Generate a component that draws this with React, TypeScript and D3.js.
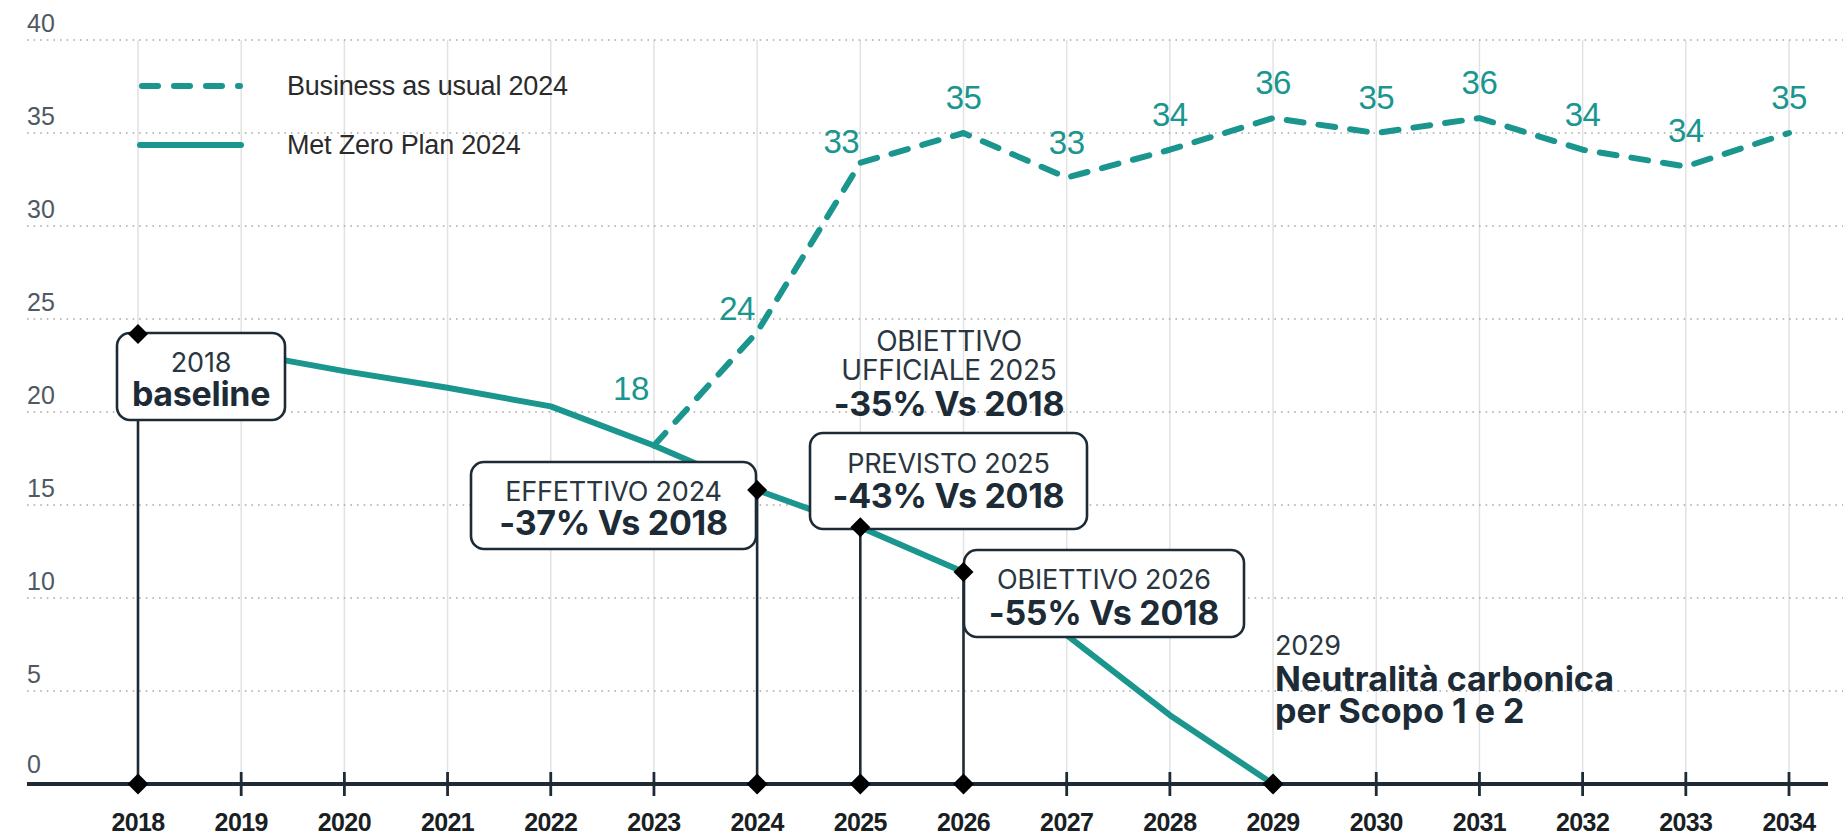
import React from "react";
import * as d3 from "d3";

// ---------- DATA ----------
const years = [2018, 2019, 2020, 2021, 2022, 2023, 2024, 2025, 2026, 2027, 2028, 2029, 2030, 2031, 2032, 2033, 2034];
const yTicks = [0, 5, 10, 15, 20, 25, 30, 35, 40];

const netZeroYears = [2018, 2019, 2020, 2021, 2022, 2023, 2024, 2025, 2026, 2027, 2028, 2029];
const netZeroValues = [24.2, 23.2, 22.2, 21.3, 20.3, 18.2, 15.8, 13.8, 11.4, 8.0, 3.7, 0];

const bauYears = [2023, 2024, 2025, 2026, 2027, 2028, 2029, 2030, 2031, 2032, 2033, 2034];
const bauValues = [18.2, 24.3, 33.4, 35.0, 32.6, 34.1, 35.8, 35.0, 35.8, 34.1, 33.2, 35.0];
const bauLabels = ["18", "24", "33", "35", "33", "34", "36", "35", "36", "34", "34", "35"];

const dropLineYears = [2018, 2024, 2025, 2026];
const axisDiamondYears = [2018, 2024, 2025, 2026, 2029];

const legendLabels = ["Business as usual 2024", "Met Zero Plan 2024"];

const baselineText = ["2018", "baseline"];
const effettivoText = ["EFFETTIVO 2024", "-37% Vs 2018"];
const previstoText = ["PREVISTO 2025", "-43% Vs 2018"];
const ufficialeText = ["OBIETTIVO", "UFFICIALE 2025", "-35% Vs 2018"];
const obiettivo2026Text = ["OBIETTIVO 2026", "-55% Vs 2018"];
const neutralText = ["2029", "Neutralità carbonica", "per Scopo 1 e 2"];

// ---------- STYLE ----------
const W = 1843;
const H = 835;
const TEAL = "#1a968f";
const DARK = "#1c2b36";
const GRAY = "#4f5963";
const SANS = "'Liberation Sans', Arial, Helvetica, sans-serif";
const GEO = "Inter, 'Noto Sans', sans-serif";

export default function App() {
  const x = d3.scaleLinear().domain([2018, 2034]).range([138, 1789]);
  const y = d3.scaleLinear().domain([0, 40]).range([784, 40]);

  const nzPts: [number, number][] = netZeroYears.map((yr, i) => [yr, netZeroValues[i]]);
  const bauPts: [number, number][] = bauYears.map((yr, i) => [yr, bauValues[i]]);
  const line = d3
    .line<[number, number]>()
    .x((d) => x(d[0]))
    .y((d) => y(d[1]));

  const nzValue = (yr: number) => netZeroValues[netZeroYears.indexOf(yr)];

  const diamond = (cx: number, cy: number, r: number, key: string) => (
    <path key={key} d={`M${cx},${cy - r}L${cx + r},${cy}L${cx},${cy + r}L${cx - r},${cy}Z`} fill="#000" />
  );

  // label nudges for the steep rising part
  const labelOffset = (i: number): [number, number] => {
    if (i === 0) return [-23, -45];
    if (i === 1) return [-20, -12];
    if (i === 2) return [-19, -10];
    return [0, -24];
  };

  const box = (
    bx: number,
    by: number,
    bw: number,
    bh: number,
    lines: string[],
    baselines: number[],
    sizes: number[],
    key: string
  ) => (
    <g key={key}>
      <rect x={bx} y={by} width={bw} height={bh} rx={13} ry={13} fill="#fff" stroke={DARK} strokeWidth={2.6} />
      {lines.map((t, i) => (
        <text
          key={i}
          x={bx + bw / 2}
          y={baselines[i]}
          textAnchor="middle"
          fontFamily={GEO}
          fontSize={sizes[i]}
          fontWeight={i === lines.length - 1 ? 700 : 400}
          fill={i === lines.length - 1 ? DARK : "#2a3640"}
          letterSpacing={i === lines.length - 1 ? -0.3 : -0.2}
        >
          {t}
        </text>
      ))}
    </g>
  );

  return (
    <div style={{ position: "fixed", left: 0, top: 0, width: W, height: H, background: "#fff" }}>
      <svg width={W} height={H} viewBox={`0 0 ${W} ${H}`} style={{ display: "block" }}>
        <rect x={0} y={0} width={W} height={H} fill="#fff" />

        {/* vertical grid */}
        {years.map((yr) => (
          <line key={"vg" + yr} x1={x(yr)} x2={x(yr)} y1={y(40)} y2={y(0)} stroke="#e2e2e2" strokeWidth={1.5} />
        ))}

        {/* horizontal dotted grid */}
        {yTicks
          .filter((t) => t > 0)
          .map((t) => (
            <line
              key={"hg" + t}
              x1={27}
              x2={W}
              y1={y(t)}
              y2={y(t)}
              stroke="#a9a9a9"
              strokeWidth={1.6}
              strokeDasharray="1.6 5"
            />
          ))}

        {/* y labels */}
        {yTicks.map((t) => (
          <text key={"yl" + t} x={27} y={y(t) - (t === 0 ? 11 : 8)} fontFamily={SANS} fontSize={25} fill={GRAY}>
            {t}
          </text>
        ))}

        {/* legend */}
        <line x1={142} x2={240} y1={86} y2={86} stroke={TEAL} strokeWidth={6} strokeDasharray="16 16" strokeLinecap="round" />
        <text x={287} y={95} fontFamily={SANS} fontSize={27} fill="#2b2b2b" letterSpacing={-0.2}>
          {legendLabels[0]}
        </text>
        <line x1={140} x2={241} y1={145} y2={145} stroke={TEAL} strokeWidth={6} strokeLinecap="round" />
        <text x={287} y={154} fontFamily={SANS} fontSize={27} fill="#2b2b2b" letterSpacing={-0.2}>
          {legendLabels[1]}
        </text>

        {/* lines */}
        <path d={line(nzPts) || ""} fill="none" stroke={TEAL} strokeWidth={6} strokeLinejoin="round" />
        <path
          d={line(bauPts) || ""}
          fill="none"
          stroke={TEAL}
          strokeWidth={6}
          strokeDasharray="17 15"
          strokeLinecap="round"
          strokeLinejoin="round"
        />

        {/* BAU labels */}
        {bauYears.map((yr, i) => {
          const [dx, dy] = labelOffset(i);
          return (
            <text
              key={"bl" + yr}
              x={x(yr) + dx}
              y={y(bauValues[i]) + dy}
              textAnchor="middle"
              fontFamily={SANS}
              fontSize={33}
              fill={TEAL}
              letterSpacing={-0.5}
            >
              {bauLabels[i]}
            </text>
          );
        })}

        {/* drop lines */}
        {dropLineYears.map((yr) => (
          <line key={"dl" + yr} x1={x(yr)} x2={x(yr)} y1={y(nzValue(yr))} y2={y(0)} stroke={DARK} strokeWidth={2.6} />
        ))}

        {/* x axis */}
        <line x1={27} x2={1828} y1={y(0)} y2={y(0)} stroke={DARK} strokeWidth={4} />
        {years
          .filter((yr) => axisDiamondYears.indexOf(yr) < 0)
          .map((yr) => (
            <line key={"tk" + yr} x1={x(yr)} x2={x(yr)} y1={y(0) - 12} y2={y(0) + 12} stroke={DARK} strokeWidth={2.8} />
          ))}
        {years.map((yr) => (
          <text
            key={"xl" + yr}
            x={x(yr)}
            y={831}
            textAnchor="middle"
            fontFamily={SANS}
            fontWeight={700}
            fontSize={25}
            fill="#1a1f24"
            letterSpacing={-0.6}
          >
            {yr}
          </text>
        ))}

        {/* annotation boxes */}
        {box(117, 333, 168, 87, baselineText, [372, 406], [27, 34], "b0")}
        {box(471, 462, 285, 87, effettivoText, [501, 535], [27, 34], "b1")}
        {box(810, 433, 277, 96, previstoText, [473, 508], [27, 34], "b2")}
        {box(964, 550, 280, 87, obiettivo2026Text, [589, 625], [27, 34], "b3")}

        {/* unboxed annotation */}
        {ufficialeText.map((t, i) => (
          <text
            key={"uf" + i}
            x={949}
            y={[351, 380, 416][i]}
            textAnchor="middle"
            fontFamily={GEO}
            fontSize={i === 2 ? 34 : 28}
            fontWeight={i === 2 ? 700 : 400}
            fill={i === 2 ? DARK : "#2a3640"}
            letterSpacing={i === 2 ? -0.3 : -0.2}
          >
            {t}
          </text>
        ))}
        {neutralText.map((t, i) => (
          <text
            key={"nt" + i}
            x={1275}
            y={[655, 691, 723][i]}
            fontFamily={GEO}
            fontSize={i === 0 ? 27 : 34}
            fontWeight={i === 0 ? 400 : 700}
            fill={i === 0 ? "#2a3640" : DARK}
            letterSpacing={i === 0 ? -0.2 : 0}
          >
            {t}
          </text>
        ))}

        {/* diamonds */}
        {dropLineYears.map((yr) => diamond(x(yr), y(nzValue(yr)), 10, "dt" + yr))}
        {axisDiamondYears.map((yr) => diamond(x(yr), y(0), 10.5, "da" + yr))}
      </svg>
    </div>
  );
}
